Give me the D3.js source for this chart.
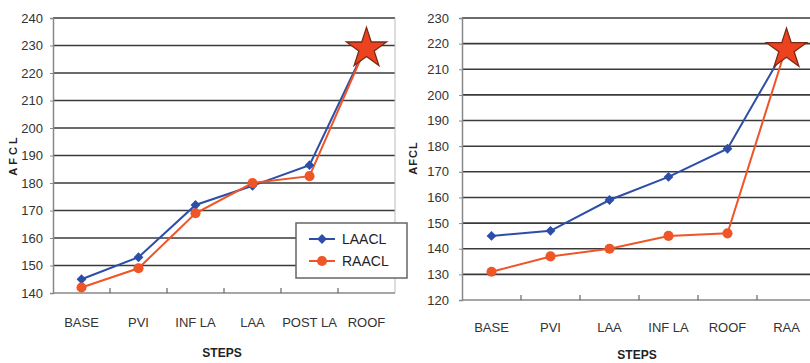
<!DOCTYPE html>
<html>
<head>
<meta charset="utf-8">
<script src="https://cdn.jsdelivr.net/npm/d3@7"></script>
<style>
  body { margin: 0; background: #fff; }
  svg { display: block; font-family: "Liberation Sans Narrow", "Liberation Sans", Arial, sans-serif; }
</style>
</head>
<body>
<svg width="810" height="363"></svg>
<script>
// left panel
const leftSteps = ["BASE", "PVI", "INF LA", "LAA", "POST LA", "ROOF"];
const leftLAACL = [145, 153, 172, 179, 186.5, 230];
const leftRAACL = [142, 149, 169, 180, 182.5, 230];
const leftTicks = [140, 150, 160, 170, 180, 190, 200, 210, 220, 230, 240];

// right panel
const rightSteps = ["BASE", "PVI", "LAA", "INF LA", "ROOF", "RAA"];
const rightLAACL = [145, 147, 159, 168, 179, 219];
const rightRAACL = [131, 137, 140, 145, 146, 219];
const rightTicks = [120, 130, 140, 150, 160, 170, 180, 190, 200, 210, 220, 230];

const seriesNames = ["LAACL", "RAACL"];
const colors = { LAACL: "#2d4ea8", RAACL: "#ee5527" };

const svg = d3.select("svg");

// diamond = square turned 45deg, circle = plain circle
function marker(sel, name) {
    if (name === "LAACL") {
        sel.attr("d", d3.symbol(d3.symbolSquare, 48))
            .attr("transform", function () { return d3.select(this).attr("transform") + " rotate(45)"; });
    } else {
        sel.attr("d", d3.symbol(d3.symbolCircle, 80));
    }
}

function drawPanel(cfg) {
    const g = svg.append("g");
    const x = d3.scaleBand().domain(cfg.steps).range([cfg.left, cfg.right]);
    const y = d3.scaleLinear().domain(d3.extent(cfg.ticks)).range([cfg.bottom, cfg.top]);
    const cx = s => x(s) + x.bandwidth() / 2;

    // gridlines
    g.selectAll(".grid")
        .data(cfg.ticks.slice(1))
        .enter().append("line")
        .attr("x1", cfg.left).attr("x2", cfg.right)
        .attr("y1", d => y(d)).attr("y2", d => y(d))
        .attr("stroke", "#3a3a3a").attr("stroke-width", 1.6);

    // right border (left panel only)
    if (cfg.border) {
        g.append("line")
            .attr("x1", cfg.right).attr("x2", cfg.right)
            .attr("y1", cfg.top).attr("y2", cfg.bottom)
            .attr("stroke", "#bbb").attr("stroke-width", 1);
    }

    // y axis
    const ya = g.append("g")
        .attr("transform", `translate(${cfg.left},0)`)
        .call(d3.axisLeft(y).tickValues(cfg.ticks).tickSize(3).tickPadding(cfg.pad));
    ya.select(".domain").attr("stroke", "#888").attr("stroke-width", 1.5);
    ya.selectAll(".tick line").attr("stroke", "#888");
    ya.selectAll("text").attr("font-size", 13).attr("fill", "#333");

    // x axis with ticks between categories pointing up
    const xa = g.append("g").attr("transform", `translate(0,${cfg.bottom})`);
    xa.append("line")
        .attr("x1", cfg.left).attr("x2", cfg.right)
        .attr("stroke", "#888").attr("stroke-width", 1.5);
    xa.selectAll(".xt")
        .data(cfg.steps.slice(1))
        .enter().append("line")
        .attr("x1", d => x(d)).attr("x2", d => x(d))
        .attr("y1", 0).attr("y2", -5)
        .attr("stroke", "#666").attr("stroke-width", 1.2);
    xa.selectAll(".xl")
        .data(cfg.steps)
        .enter().append("text")
        .attr("x", d => cx(d))
        .attr("y", cfg.labelY - cfg.bottom)
        .attr("text-anchor", "middle")
        .attr("font-size", 13)
        .attr("fill", "#333")
        .text(d => d);

    // axis titles
    g.append("text")
        .attr("transform", `translate(${cfg.yTitleX},${cfg.yTitleY}) rotate(-90)`)
        .attr("text-anchor", "middle")
        .attr("font-family", "Liberation Sans, Arial, sans-serif")
        .attr("font-weight", "bold")
        .attr("font-size", 11)
        .attr("letter-spacing", cfg.spacing)
        .attr("fill", "#222")
        .text("AFCL");
    g.append("text")
        .attr("x", cfg.xTitleX).attr("y", cfg.xTitleY)
        .attr("text-anchor", "middle")
        .attr("font-weight", "bold")
        .attr("font-size", 12)
        .attr("fill", "#222")
        .text("STEPS");

    const line = d3.line().x((d, i) => cx(cfg.steps[i])).y(d => y(d));
    const series = [
        { name: "LAACL", values: cfg.laacl },
        { name: "RAACL", values: cfg.raacl }
    ];

    series.forEach(s => {
        g.append("path")
            .datum(s.values)
            .attr("fill", "none")
            .attr("stroke", colors[s.name])
            .attr("stroke-width", 2)
            .attr("d", line);
    });

    // markers (except last point which is a star)
    series.forEach(s => {
        g.selectAll(null)
            .data(s.values.slice(0, -1))
            .enter().append("path")
            .attr("transform", (d, i) => `translate(${cx(cfg.steps[i])},${y(d)})`)
            .attr("fill", colors[s.name])
            .each(function () { marker(d3.select(this), s.name); });
    });

    const last = cfg.steps.length - 1;
    g.append("path")
        .attr("transform", `translate(${cx(cfg.steps[last])},${y(cfg.laacl[last]) + 3})`)
        .attr("d", d3.symbol(d3.symbolStar, 500))
        .attr("fill", "#ec4220")
        .attr("stroke", "#7a2a12")
        .attr("stroke-width", 1.3);
}

drawPanel({
    steps: leftSteps, laacl: leftLAACL, raacl: leftRAACL, ticks: leftTicks,
    left: 53, right: 395, top: 18, bottom: 293, pad: 7, border: true,
    labelY: 327, yTitleX: 17, yTitleY: 155, spacing: 3,
    xTitleX: 222, xTitleY: 357
});

drawPanel({
    steps: rightSteps, laacl: rightLAACL, raacl: rightRAACL, ticks: rightTicks,
    left: 462, right: 816, top: 18, bottom: 300, pad: 10, border: false,
    labelY: 332, yTitleX: 417, yTitleY: 158, spacing: 1,
    xTitleX: 637, xTitleY: 359
});

// legend
const lg = svg.append("g").attr("transform", "translate(296,223)");
lg.append("rect")
    .attr("width", 111).attr("height", 55)
    .attr("fill", "#fff")
    .attr("stroke", "#666").attr("stroke-width", 1.5);
seriesNames.forEach((name, i) => {
    const yy = 16 + i * 22;
    lg.append("line")
        .attr("x1", 13).attr("x2", 39).attr("y1", yy).attr("y2", yy)
        .attr("stroke", colors[name]).attr("stroke-width", 2);
    lg.append("path")
        .attr("transform", `translate(26,${yy})`)
        .attr("fill", colors[name])
        .call(marker, name);
    lg.append("text")
        .attr("x", 46).attr("y", yy + 5)
        .attr("font-family", "Liberation Sans, Arial, sans-serif")
        .attr("font-size", 14)
        .attr("fill", "#222")
        .text(name);
});
</script>
</body>
</html>
